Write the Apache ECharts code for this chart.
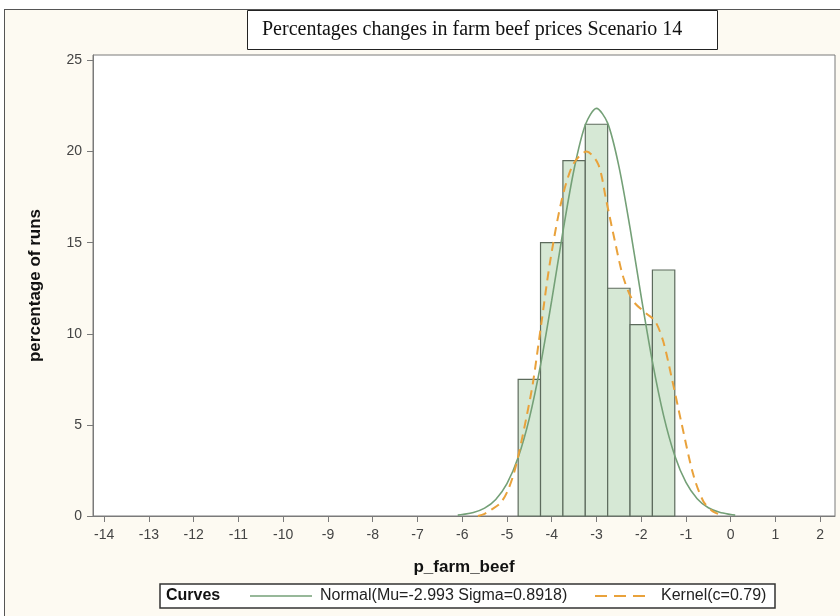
<!DOCTYPE html>
<html>
<head>
<meta charset="utf-8">
<script src="https://cdn.jsdelivr.net/npm/echarts@6/dist/echarts.min.js"></script>
<style>
  html, body { margin: 0; padding: 0; background: #fff; }
  #frame { position: absolute; left: 4px; top: 9px; width: 850px; height: 620px;
           background: #fdfaf2; border-left: 1px solid #555; border-top: 1px solid #555; }
  #main { position: absolute; left: 0; top: 0; width: 840px; height: 616px; }
</style>
</head>
<body>
<div id="frame"></div>
<div id="main"></div>
<script>
// histogram bins (percent of runs per 0.5-wide bin)
const binEdges = [-4.75, -4.25, -3.75, -3.25, -2.75, -2.25, -1.75, -1.25];
const binPercents = [7.5, 15, 19.5, 21.5, 12.5, 10.5, 13.5];

// fitted normal curve
const normalX = [-6.1, -6.0, -5.75, -5.5, -5.25, -5.0, -4.75, -4.5, -4.25, -4.0, -3.75, -3.5, -3.25, -3.0,
  -2.75, -2.5, -2.25, -2.0, -1.75, -1.5, -1.25, -1.0, -0.75, -0.5, -0.25, 0.0, 0.1];
const normalY = [0.05, 0.08, 0.19, 0.43, 0.91, 1.78, 3.21, 5.36, 8.28, 11.83, 15.6, 19.03, 21.46, 22.37,
  21.56, 19.2, 15.81, 12.03, 8.47, 5.51, 3.31, 1.84, 0.95, 0.45, 0.2, 0.08, 0.05];

// kernel density curve
const kernelX = [-5.65, -5.5, -5.35, -5.15, -5.0, -4.85, -4.72, -4.55, -4.42, -4.23, -4.04, -3.78, -3.52, -3.22,
  -2.96, -2.78, -2.59, -2.4, -2.18, -1.88, -1.69, -1.51, -1.32, -1.1, -0.84, -0.61, -0.39, -0.2];
const kernelY = [0.0, 0.12, 0.35, 0.7, 1.3, 2.3, 3.6, 5.6, 7.3, 10.6, 13.9, 17.3, 19.3, 20.0,
  19.3, 17.3, 15.1, 13.1, 11.8, 11.1, 10.7, 9.6, 7.6, 5.1, 2.3, 0.8, 0.24, 0.05];

const xTicks = [-14, -13, -12, -11, -10, -9, -8, -7, -6, -5, -4, -3, -2, -1, 0, 1, 2];
const yTicks = [0, 5, 10, 15, 20, 25];

const normalName = 'Normal(Mu=-2.993 Sigma=0.8918)';
const kernelName = 'Kernel(c=0.79)';

const chart = echarts.init(document.getElementById('main'));

const bins = binPercents.map((p, i) => [binEdges[i], binEdges[i + 1], p]);
const zip = (xs, ys) => xs.map((x, i) => [x, ys[i]]);

const axisGray = '#7a7a7a';
const greenLine = '#74a077';
const orangeLine = '#e9a23b';
const font = '"Liberation Sans", Arial, sans-serif';

const option = {
  animation: false,
  backgroundColor: 'transparent',
  textStyle: { fontFamily: font },
  title: {
    text: 'Percentages changes in farm beef prices Scenario 14',
    left: 247,
    top: 10,
    padding: [10, 35, 10, 15],
    backgroundColor: '#fff',
    borderColor: '#222',
    borderWidth: 1,
    textStyle: { fontFamily: '"Liberation Serif", "Times New Roman", serif', fontSize: 20, fontWeight: 'normal', color: '#111' }
  },
  grid: {
    left: 93, right: 5, top: 55, bottom: 100,
    show: true, backgroundColor: '#fff', borderColor: axisGray, borderWidth: 1
  },
  // legend box drawn by hand so the samples look like the SAS legend
  graphic: [
    { type: 'rect', shape: { x: 160, y: 584, width: 615, height: 24 },
      style: { fill: '#fff', stroke: '#333', lineWidth: 1.5 } },
    { type: 'text', x: 166, y: 588,
      style: { text: 'Curves', font: 'bold 16px ' + font, fill: '#111' } },
    { type: 'line', shape: { x1: 250, y1: 596, x2: 312, y2: 596 },
      style: { stroke: greenLine, lineWidth: 1.6 } },
    { type: 'text', x: 320, y: 588,
      style: { text: normalName, font: '16px ' + font, fill: '#222' } },
    { type: 'line', shape: { x1: 595, y1: 596, x2: 645, y2: 596 },
      style: { stroke: orangeLine, lineWidth: 2, lineDash: [12, 7] } },
    { type: 'text', x: 661, y: 588,
      style: { text: kernelName, font: '16px ' + font, fill: '#222' } }
  ],
  xAxis: {
    type: 'value',
    min: -14.25,
    max: 2.33,
    name: 'p_farm_beef',
    nameLocation: 'middle',
    nameGap: 43,
    nameTextStyle: { fontSize: 17, fontWeight: 'bold', color: '#111' },
    splitLine: { show: false },
    axisLine: { show: true, onZero: false, lineStyle: { color: axisGray } },
    axisTick: { show: true, inside: false, length: 6, lineStyle: { color: axisGray }, customValues: xTicks },
    axisLabel: { color: '#444', fontSize: 14, margin: 12, customValues: xTicks }
  },
  yAxis: {
    type: 'value',
    min: 0,
    max: 25.3,
    name: 'percentage of runs',
    nameLocation: 'middle',
    nameGap: 49,
    nameTextStyle: { fontSize: 17, fontWeight: 'bold', color: '#111' },
    splitLine: { show: false },
    axisLine: { show: true, onZero: false, lineStyle: { color: axisGray } },
    axisTick: { show: true, length: 6, lineStyle: { color: axisGray }, customValues: yTicks },
    axisLabel: { color: '#444', fontSize: 14, margin: 11, customValues: yTicks }
  },
  series: [
    {
      name: 'bins',
      type: 'custom',
      data: bins,
      encode: { x: [0, 1], y: 2 },
      renderItem: (params, api) => {
        const p0 = api.coord([api.value(0), 0]);
        const p1 = api.coord([api.value(1), api.value(2)]);
        return {
          type: 'rect',
          shape: { x: p0[0], y: p1[1], width: p1[0] - p0[0], height: p0[1] - p1[1] },
          style: { fill: '#d6e8d5', stroke: '#5d6b5d', lineWidth: 1.2 }
        };
      }
    },
    {
      name: normalName,
      type: 'line',
      data: zip(normalX, normalY),
      smooth: 0.3,
      symbol: 'none',
      lineStyle: { color: greenLine, width: 1.6 },
      z: 3
    },
    {
      name: kernelName,
      type: 'line',
      data: zip(kernelX, kernelY),
      smooth: 0.3,
      symbol: 'none',
      lineStyle: { color: orangeLine, width: 2, type: [9, 6] },
      z: 4
    }
  ]
};

chart.setOption(option);
window.addEventListener('resize', () => chart.resize());
</script>
</body>
</html>
